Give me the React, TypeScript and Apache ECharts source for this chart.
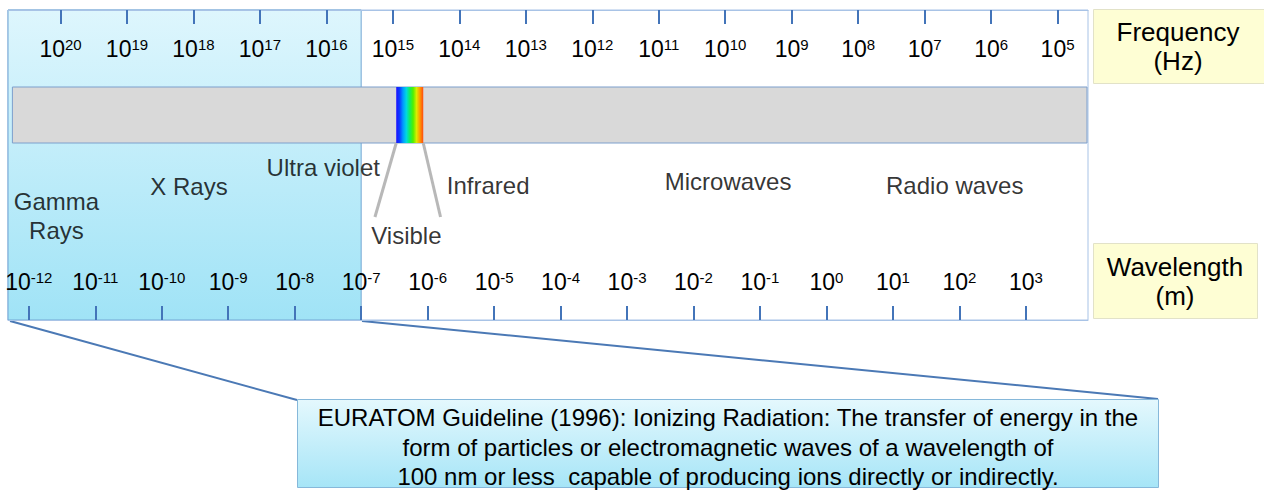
import React, { useEffect, useRef } from "react";
import * as echarts from "echarts";

// ---- data (log10 units) ----
const frequencyTicks = [20, 19, 18, 17, 16, 15, 14, 13, 12, 11, 10, 9, 8, 7, 6, 5]; // log10 Hz
const wavelengthTicks = [-12, -11, -10, -9, -8, -7, -6, -5, -4, -3, -2, -1, 0, 1, 2, 3]; // log10 m
const frequencyEdges = [20.79, 4.542]; // log10 Hz at the left and right edge of the scale
const lightSpeedExp = Math.log10(2.998e8); // wavelength = c / frequency
const ionizingLimitExp = -7; // 100 nm
const spectrumBarExtent = [-12.247, 3.92]; // log10 m
const visibleBandNm = [337, 859];
const visibleColors = ["#1a10ff", "#0a3cff", "#0099ff", "#00d8e0", "#10ee60", "#50f000", "#d8ec00", "#ff9a00", "#ff4a10"];
const bandNames = ["Gamma\nRays", "X Rays", "Ultra violet", "Infrared", "Microwaves", "Radio waves", "Visible"];
const bandCentersExp = [-11.585, -9.59, -7.57, -5.09, -1.48, 1.93, -6.32]; // log10 m
const frequencyTitle = "Frequency\n(Hz)";
const wavelengthTitle = "Wavelength\n(m)";
const guidelineLines = [
  "EURATOM Guideline (1996): Ionizing Radiation: The transfer of energy in the",
  "form of particles or electromagnetic waves of a wavelength of",
  "100 nm or less  capable of producing ions directly or indirectly.",
];

const FONT = '"Liberation Sans", Arial, Helvetica, sans-serif';
const INK = "#000";

function buildOption() {
  const wlMin = lightSpeedExp - frequencyEdges[0];
  const wlMax = lightSpeedExp - frequencyEdges[1];
  const visStart = Math.log10(visibleBandNm[0] * 1e-9);
  const visEnd = Math.log10(visibleBandNm[1] * 1e-9);

  // vertical layout (grid units = px from the top of the scale box)
  const H = 310;
  const barTop = 77;
  const barBottom = 133;
  const labelRows = [206, 176, 157, 175, 171, 175, 225];

  const rich = {
    b: { fontSize: 23, fontFamily: FONT, color: INK, verticalAlign: "bottom" },
    s: { fontSize: 15, fontFamily: FONT, color: INK, verticalAlign: "top" },
  };
  const axisCommon = (ticks: number[]) => ({
    type: "value",
    z: 5,
    splitLine: { show: false },
    axisLine: { show: true, onZero: false, lineStyle: { color: "#a8c3e6", width: 1 } },
    axisTick: { show: true, inside: true, length: 14, customValues: ticks, lineStyle: { color: "#4374b9", width: 2 } },
    axisLabel: {
      show: true,
      inside: true,
      margin: 27,
      customValues: ticks,
      formatter: (v: number) => `{b|10}{s|${Math.round(v)}}`,
      rich,
    },
  });

  const vGrad = (a: string, b: string) =>
    new echarts.graphic.LinearGradient(0, 0, 0, 1, [
      { offset: 0, color: a },
      { offset: 1, color: b },
    ]);
  const rainbow = new echarts.graphic.LinearGradient(
    0,
    0,
    1,
    0,
    visibleColors.map((c, i) => ({ offset: i / (visibleColors.length - 1), color: c }))
  );

  return {
    animation: false,
    grid: {
      left: 8,
      top: 10,
      width: 1080,
      height: H,
      show: true,
      borderColor: "#a8c3e6",
      borderWidth: 1,
      backgroundColor: "#ffffff",
    },
    xAxis: [
      { ...axisCommon(frequencyTicks), position: "top", inverse: true, min: frequencyEdges[1], max: frequencyEdges[0] },
      { ...axisCommon(wavelengthTicks), position: "bottom", min: wlMin, max: wlMax },
    ],
    yAxis: { type: "value", min: 0, max: H, inverse: true, show: false },
    series: [
      {
        type: "scatter",
        name: "ionizing",
        xAxisIndex: 1,
        z: 1,
        data: [],
        markArea: {
          silent: true,
          data: [
            [
              {
                xAxis: wlMin,
                yAxis: 0,
                itemStyle: { color: vGrad("#def6fd", "#a0e3f6"), borderColor: "#72a6d4", borderWidth: 1 },
              },
              { xAxis: ionizingLimitExp, yAxis: H },
            ],
          ],
        },
      },
      {
        type: "scatter",
        name: "spectrum",
        xAxisIndex: 1,
        z: 2,
        data: [],
        markArea: {
          silent: true,
          data: [
            [
              {
                xAxis: spectrumBarExtent[0],
                yAxis: barTop,
                itemStyle: { color: "#d9d9d9", borderColor: "#7d9fcc", borderWidth: 1 },
              },
              { xAxis: spectrumBarExtent[1], yAxis: barBottom },
            ],
          ],
        },
      },
      {
        type: "scatter",
        name: "visible",
        xAxisIndex: 1,
        z: 3,
        data: [],
        markArea: {
          silent: true,
          data: [
            [
              { xAxis: visStart, yAxis: barTop, itemStyle: { color: rainbow, borderWidth: 0 } },
              { xAxis: visEnd, yAxis: barBottom },
            ],
          ],
        },
        markLine: {
          silent: true,
          symbol: ["none", "none"],
          label: { show: false },
          lineStyle: { color: "#b8b8b8", width: 3, type: "solid" },
          data: [
            [{ coord: [visStart, barBottom] }, { coord: [visStart - 0.32, 207] }],
            [{ coord: [visEnd, barBottom] }, { coord: [visEnd + 0.26, 207] }],
          ],
        },
      },
      {
        type: "scatter",
        name: "labels",
        xAxisIndex: 1,
        z: 4,
        symbolSize: 1,
        itemStyle: { color: "rgba(0,0,0,0)" },
        label: {
          show: true,
          position: "inside",
          formatter: "{b}",
          fontFamily: FONT,
          fontSize: 24,
          lineHeight: 29,
          color: INK,
        },
        data: bandNames.map((n, i) => ({ name: n, value: [bandCentersExp[i], labelRows[i]] })),
      },
    ],
    graphic: [
      {
        type: "line",
        shape: { x1: 10, y1: 321, x2: 297, y2: 400 },
        style: { stroke: "#4b79b5", lineWidth: 2 },
      },
      {
        type: "line",
        shape: { x1: 362, y1: 321, x2: 1158, y2: 399 },
        style: { stroke: "#4b79b5", lineWidth: 2 },
      },
      {
        type: "rect",
        shape: { x: 297.5, y: 399.5, width: 861, height: 88 },
        style: { fill: vGrad("#e4f8fd", "#a6e5f7"), stroke: "#86b8da", lineWidth: 1 },
      },
      {
        type: "text",
        style: {
          text: guidelineLines.join("\n"),
          x: 728,
          y: 447,
          align: "center",
          verticalAlign: "middle",
          font: `24px ${FONT}`,
          lineHeight: 29.5,
          fill: INK,
        },
      },
      {
        type: "rect",
        shape: { x: 1093.5, y: 9.5, width: 180, height: 74 },
        style: { fill: "#fefed4", stroke: "#e2e2c8", lineWidth: 1 },
      },
      {
        type: "text",
        style: {
          text: frequencyTitle,
          x: 1178,
          y: 46,
          align: "center",
          verticalAlign: "middle",
          font: `26px ${FONT}`,
          lineHeight: 29,
          fill: INK,
        },
      },
      {
        type: "rect",
        shape: { x: 1093.5, y: 243.5, width: 164, height: 75 },
        style: { fill: "#fefed4", stroke: "#e2e2c8", lineWidth: 1 },
      },
      {
        type: "text",
        style: {
          text: wavelengthTitle,
          x: 1175,
          y: 281,
          align: "center",
          verticalAlign: "middle",
          font: `26px ${FONT}`,
          lineHeight: 29,
          fill: INK,
        },
      },
    ],
  };
}

export default function App() {
  const ref = useRef<HTMLDivElement>(null);
  useEffect(() => {
    if (!ref.current) return;
    const chart = echarts.init(ref.current, undefined, { renderer: "svg" });
    chart.setOption(buildOption() as any);
    return () => chart.dispose();
  }, []);
  return (
    <div
      ref={ref}
      style={{ position: "absolute", left: 0, top: 0, width: 1264, height: 495, background: "#fff" }}
    />
  );
}
